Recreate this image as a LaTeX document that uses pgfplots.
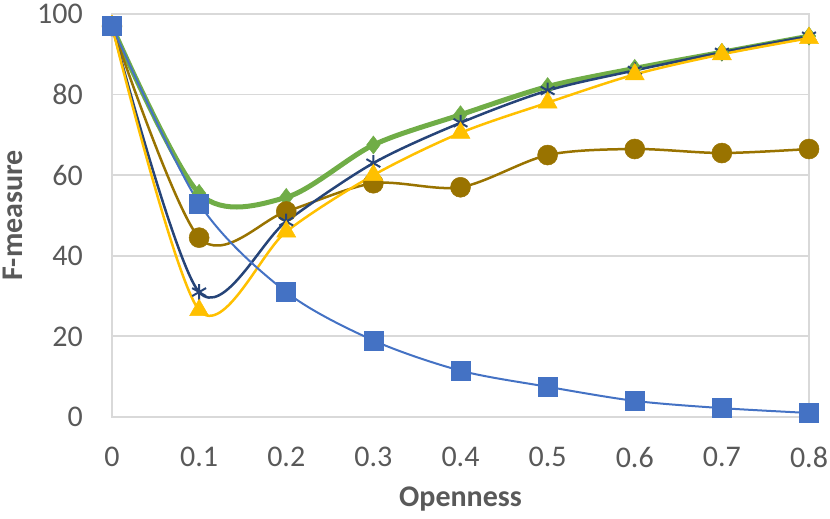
\documentclass[border=0pt]{standalone}
\usepackage{fontspec}
\setmainfont{Carlito}
\usepackage{pgfplots}
\pgfplotsset{compat=1.18}
\definecolor{sqblue}{HTML}{4472C4}
\definecolor{dgreen}{HTML}{70AD47}
\definecolor{navy}{HTML}{264478}
\definecolor{gold}{HTML}{FFC000}
\definecolor{olive}{HTML}{997300}
\definecolor{gridgray}{HTML}{D9D9D9}
\definecolor{txtgray}{HTML}{595959}

\begin{document}
\begin{tikzpicture}
\begin{axis}[
    at={(0,0)}, anchor=south west,
    scale only axis,
    width=697pt, height=403pt,
    xmin=0, xmax=0.8, ymin=0, ymax=100,
    xtick={0,0.1,0.2,0.3,0.4,0.5,0.6,0.7,0.8},
    xticklabels={0,0.1,0.2,0.3,0.4,0.5,0.6,0.7,0.8},
    ytick={0,20,40,60,80,100},
    major tick length=0pt,
    axis line style={draw=gridgray, line width=2pt},
    ymajorgrids,
    grid style={draw=gridgray, line width=1.8pt},
    /pgf/number format/assume math mode=true,
    tick label style={font=\fontsize{30}{34}\selectfont, text=txtgray, inner sep=0pt},
    xticklabel style={anchor=north, yshift=-30pt},
    yticklabel style={anchor=east, xshift=-29pt},
    xlabel={\textbf{Openness}},
    ylabel={\textbf{F-measure}},
    label style={font=\fontsize{30}{34}\selectfont, text=txtgray, inner sep=0pt},
    xlabel style={at={(axis description cs:0.5,-0.2233)}, anchor=base},
    ylabel style={at={(axis description cs:-0.1291,0.5)}, anchor=base},
    clip=false,
    every axis plot/.append style={smooth},
]
% green diamonds
\addplot[dgreen, line width=5pt, mark=diamond*, mark size=9pt, mark options={solid, line width=0.5pt, fill=dgreen}] coordinates {
    (0,97) (0.1,55.5) (0.2,54.5) (0.3,67.5) (0.4,75) (0.5,82) (0.6,86.5) (0.7,90.5) (0.8,94.5)
};
% olive circles
\addplot[olive, line width=2.5pt, mark=*, mark size=10pt, mark options={line width=0.5pt, fill=olive}] coordinates {
    (0,97) (0.1,44.5) (0.2,51) (0.3,58) (0.4,57) (0.5,65) (0.6,66.5) (0.7,65.5) (0.8,66.5)
};
% navy asterisks
\addplot[navy, line width=2.5pt, mark=asterisk, mark size=8pt, mark options={line width=2pt}] coordinates {
    (0,97) (0.1,31) (0.2,48.5) (0.3,63) (0.4,73) (0.5,81) (0.6,86) (0.7,90.5) (0.8,94.5)
};
% gold triangles
\addplot[gold, line width=2.5pt, mark=triangle*, mark size=11pt, mark options={line width=0.5pt, fill=gold}] coordinates {
    (0,97) (0.1,26.5) (0.2,46) (0.3,60) (0.4,70.5) (0.5,78) (0.6,85) (0.7,90) (0.8,94)
};
% blue squares
\addplot[sqblue, line width=2pt, mark=square*, mark size=9.5pt, mark options={line width=0.5pt, fill=sqblue}] coordinates {
    (0,97) (0.1,53) (0.2,31) (0.3,19) (0.4,11.5) (0.5,7.5) (0.6,4) (0.7,2.2) (0.8,1)
};
\end{axis}
\pgfresetboundingbox
\useasboundingbox (-112pt,-102pt) rectangle (718pt,417pt);
\end{tikzpicture}
\end{document}
